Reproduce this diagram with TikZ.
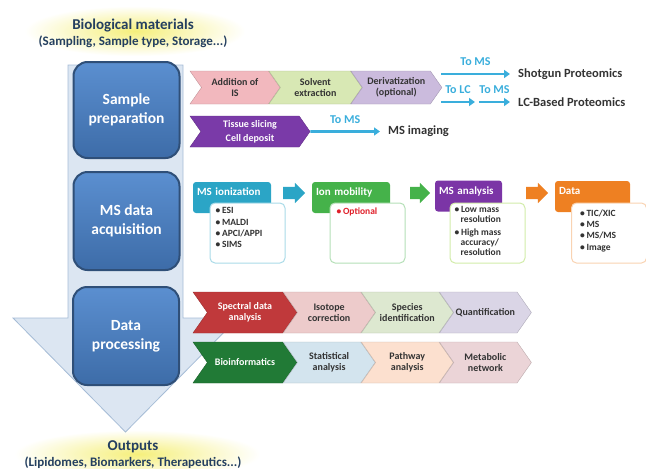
\documentclass[tikz,border=0pt]{standalone}
\usepackage{fontspec}
\setmainfont{Carlito}
\usetikzlibrary{arrows.meta,positioning,shapes.symbols,shapes.arrows,fadings}

\definecolor{stagetop}{HTML}{5B8FD0}
\definecolor{stagebot}{HTML}{3D6CA8}
\definecolor{stageedge}{HTML}{2F4F78}
\definecolor{flowfill}{HTML}{DCE6F2}
\definecolor{flowedge}{HTML}{A6BCD6}
\definecolor{glowyellow}{HTML}{F2EA50}
\definecolor{headtext}{HTML}{243F60}
\definecolor{toblue}{HTML}{3AAEDC}
\definecolor{darktext}{HTML}{333333}
\definecolor{pinkIS}{HTML}{F2B8BE}
\definecolor{greenSE}{HTML}{D8E8B4}
\definecolor{lilacDV}{HTML}{CBBBDD}
\definecolor{purpleTS}{HTML}{7A3AA8}
\definecolor{redSD}{HTML}{C0393B}
\definecolor{pinkIC}{HTML}{EDCBCB}
\definecolor{greenSI}{HTML}{DDE8D0}
\definecolor{lilacQ}{HTML}{DAD5E6}
\definecolor{greenBI}{HTML}{217A36}
\definecolor{blueSA}{HTML}{D3E4EE}
\definecolor{peachPA}{HTML}{FCE0CF}
\definecolor{roseMN}{HTML}{EBD4D7}
\definecolor{tealMS}{HTML}{2BA5C6}
\definecolor{greenIM}{HTML}{45B24A}
\definecolor{purpleMA}{HTML}{7B35A6}
\definecolor{orangeD}{HTML}{EE8022}
\definecolor{optred}{HTML}{E0202A}

\tikzfading[name=glowfade, inner color=transparent!25, outer color=transparent!100]

\begin{document}
\begin{tikzpicture}[x=1pt,y=-1pt,>={Triangle[length=6pt,width=8pt]},
  stage/.style={rounded corners=14pt,draw=stageedge,line width=2pt,top color=stagetop,bottom color=stagebot,
    text=white,font=\fontsize{15.5}{19}\selectfont\bfseries,align=center,minimum width=106pt,minimum height=96pt},
  title/.style={font=\fontsize{13}{16}\selectfont\bfseries,text=headtext,align=center},
  chev/.style={signal,signal to=east,signal from=west,signal pointer angle=110,fill=#1,draw=#1!80!black,
    line width=.4pt,font=\fontsize{10}{11.3}\selectfont\bfseries,text=darktext,align=center,inner sep=1pt},
  dest/.style={font=\fontsize{12.5}{14}\selectfont\bfseries,text=darktext,inner xsep=8pt,anchor=west},
  toms/.style={draw=toblue,line width=2.8pt,->},
  tolabel/.style={above=6pt,midway,font=\fontsize{12}{14}\selectfont\bfseries,text=toblue,inner sep=1pt},
  hdr/.style={fill=#1,rounded corners=3pt,minimum width=78pt,minimum height=31pt,text width=70pt,
    align=left,text height=9.5pt,text depth=13.5pt,inner xsep=4pt,inner ysep=4pt,
    font=\fontsize{11}{12}\selectfont\bfseries,text=white},
  detail/.style={draw=#1,fill=white,rounded corners=5pt,line width=1pt,minimum width=75pt,minimum height=60pt},
  items/.style={font=\fontsize{9.5}{11.3}\selectfont\bfseries,text=darktext,align=left,anchor=north west,inner sep=0pt},
  blk/.style={single arrow,fill=#1,minimum height=22pt,inner sep=6pt,single arrow head extend=4pt}]
\useasboundingbox (0,0) rectangle (646,469);

% big flow arrow behind the stages
\draw[flowedge,fill=flowfill,line width=.8pt] (68,65) -- (183,65) -- (183,318) -- (238,318)
  -- (125.5,432) -- (13,318) -- (68,318) -- cycle;

% input and output
\fill[glowyellow,path fading=glowfade] (25,6) rectangle (245,56);
\node[title] (bio) at (133,33) {{\fontsize{15}{17}\selectfont Biological materials}\\(Sampling, Sample type, Storage...)};
\fill[glowyellow,path fading=glowfade] (15,430) rectangle (260,478);
\node[title] (outputs) at (133,455) {{\fontsize{15}{17}\selectfont Outputs}\\(Lipidomes, Biomarkers, Therapeutics...)};

% stages
\node[stage] (prep) at (126.5,110) {Sample\\preparation};
\node[stage,minimum height=98pt] (acq) at (126.5,221) {MS data\\acquisition};
\node[stage,minimum height=98pt] (proc) at (126,336) {Data\\processing};

% sample preparation
\node[chev=pinkIS,minimum width=90pt,minimum height=33pt] (addis) at (235,87.5) {Addition of\\IS};
\node[chev=greenSE,minimum width=93pt,minimum height=33pt,right=0pt of addis] (solvext) {Solvent\\extraction};
\node[chev=lilacDV,minimum width=91pt,minimum height=33pt,right=0pt of solvext] (deriv) {Derivatization\\(optional)};
\node[chev=purpleTS,text=white,minimum width=120pt,minimum height=31pt,
  font=\fontsize{10}{14}\selectfont\bfseries] (tissue) at (250,131.5) {Tissue slicing\\Cell deposit};

\node[dest] (shotgun) at (510,74) {Shotgun Proteomics};
\node[dest] (lcbased) at (510,102) {LC-Based Proteomics};
\node[dest] (imaging) at (380,131.5) {MS imaging};

\coordinate (shotstart) at (441,74);
\coordinate (lcstart) at (441,102);
\coordinate (lcstop) at (475,102);
\coordinate (msstart) at (479,102);
\draw[toms] (shotstart) -- (shotgun) node[tolabel] {To MS};
\draw[toms] (lcstart) -- (lcstop) node[tolabel] {To LC};
\draw[toms] (msstart) -- (lcbased) node[tolabel] {To MS};
\draw[toms] (tissue) -- (imaging) node[tolabel] {To MS};

% MS data acquisition
\node[hdr=tealMS] (ionhdr) at (232,197.5) {MS ionization};
\node[detail=tealMS!40] (ionbox) at (247.5,233) {};
\node[items] (ionlist) at ([xshift=6pt,yshift=-5pt]ionbox.north west)
  {\textbullet\,ESI\\\textbullet\,MALDI\\\textbullet\,APCI/APPI\\\textbullet\,SIMS};
\node[blk=tealMS] (ionarrow) at (291,193) {};

\node[hdr=greenIM] (mobhdr) at (351,197.5) {Ion mobility};
\node[detail=greenIM!40] (mobbox) at (367.5,233) {};
\node[items,text=optred] (moblist) at ([xshift=7pt,yshift=-5pt]mobbox.north west) {\textbullet\,Optional};
\node[blk=greenIM,minimum height=20pt] (mobarrow) at (417,193) {};

\node[hdr=purpleMA,minimum width=67pt,text width=59pt] (anahdr) at (468.5,196) {MS analysis};
\node[detail=yellow!50!green!35] (anabox) at (487.5,233) {};
\node[items,font=\fontsize{9.5}{10}\selectfont\bfseries] (analist) at ([xshift=5pt,yshift=-4pt]anabox.north west)
  {\textbullet\,Low mass\\\hspace*{6pt}resolution\\[2.5pt]\textbullet\,High mass\\\hspace*{6pt}accuracy/\\\hspace*{6pt}resolution};
\node[blk=orangeD] (anaarrow) at (534,193) {};

\node[hdr=orangeD,minimum width=75pt,text width=67pt] (datahdr) at (592.5,196.5) {Data};
\node[detail=orangeD!35] (databox) at (609,233) {};
\node[items] (datalist) at ([xshift=9pt,yshift=-7pt]databox.north west)
  {\textbullet\,TIC/XIC\\\textbullet\,MS\\\textbullet\,MS/MS\\\textbullet\,Image};

% data processing
\node[chev=redSD,text=white,minimum width=104pt,minimum height=41pt] (spectral) at (245,312.5) {Spectral data\\analysis};
\node[chev=pinkIC,minimum width=92pt,minimum height=41pt,right=0pt of spectral] (isotope) {Isotope\\correction};
\node[chev=greenSI,minimum width=92pt,minimum height=41pt,right=0pt of isotope] (species) {Species\\identification};
\node[chev=lilacQ,minimum width=92pt,minimum height=41pt,right=0pt of species] (quant) {Quantification};

\node[chev=greenBI,text=white,minimum width=104pt,minimum height=41pt] (bioinf) at (245,362.5) {Bioinformatics};
\node[chev=blueSA,minimum width=92pt,minimum height=41pt,right=0pt of bioinf] (stats) {Statistical\\analysis};
\node[chev=peachPA,minimum width=92pt,minimum height=41pt,right=0pt of stats] (pathway) {Pathway\\analysis};
\node[chev=roseMN,minimum width=92pt,minimum height=41pt,right=0pt of pathway] (metab) {Metabolic\\network};
\end{tikzpicture}
\end{document}
